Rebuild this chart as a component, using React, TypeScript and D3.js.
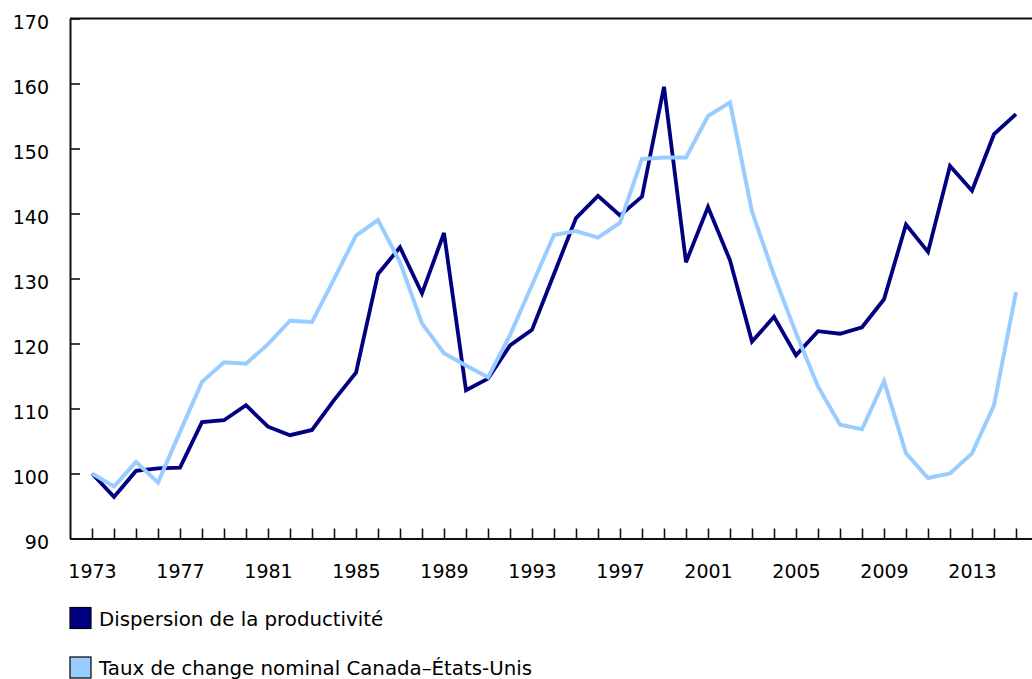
import * as d3 from "d3";
import { useRef, useEffect } from "react";

const years = d3.range(1973, 2016);

// Dispersion de la productivité
const productivity = [
  100.0, 96.4, 100.4, 100.8, 100.9, 107.9, 108.2, 110.5, 107.2, 105.9,
  106.7, 111.3, 115.5, 130.7, 134.8, 127.7, 137.0, 112.8, 114.6, 119.7,
  122.1, 130.7, 139.3, 142.7, 139.7, 142.6, 159.5, 132.5, 141.0, 132.8,
  120.3, 124.1, 118.2, 121.9, 121.5, 122.5, 126.8, 138.3, 134.1, 147.3,
  143.5, 152.2, 155.3,
];

// Taux de change nominal Canada–États-Unis
const exchangeRate = [
  100.0, 98.0, 101.8, 98.6, 106.4, 114.1, 117.1, 116.9, 119.9, 123.5,
  123.3, 129.9, 136.6, 139.0, 132.5, 123.1, 118.5, 116.6, 114.8, 121.3,
  129.0, 136.7, 137.3, 136.3, 138.6, 148.4, 148.6, 148.6, 155.0, 157.1,
  140.3, 130.5, 121.6, 113.4, 107.5, 106.8, 114.2, 103.1, 99.3, 100.0,
  103.1, 110.5, 127.9,
];

const yTicks = [90, 100, 110, 120, 130, 140, 150, 160, 170];

const seriesList = [
  { name: "Dispersion de la productivité", values: productivity, color: "#000080", width: 3.8 },
  { name: "Taux de change nominal Canada–États-Unis", values: exchangeRate, color: "#99ccff", width: 4 },
];

const width = 1032;
const height = 679;
const marginLeft = 70;
const marginTop = 18.5;
const plotBottom = 538.5;
const font = "'DejaVu Sans', Verdana, sans-serif";

export default function App() {
  const gx = useRef<SVGGElement>(null);
  const gy = useRef<SVGGElement>(null);

  const x = d3
    .scaleLinear()
    .domain([1972, 1972 + (width - marginLeft) / 22])
    .range([marginLeft, width]);

  const y = d3.scaleLinear().domain([90, 170]).range([plotBottom, marginTop]);

  const line = d3
    .line<number>()
    .x((_, i) => x(years[i]))
    .y((d) => y(d));

  useEffect(() => {
    if (gx.current) {
      const g = d3.select(gx.current);
      g.call(
        d3
          .axisBottom(x)
          .tickValues(years)
          .tickFormat((d) => ((+d - 1973) % 4 === 0 ? String(d) : ""))
          .tickSizeInner(-10)
          .tickSizeOuter(0)
          .tickPadding(26)
      );
      g.selectAll("text").attr("font-size", 19).attr("font-family", font).attr("fill", "#000");
      g.selectAll("line").attr("stroke", "#111").attr("stroke-width", 1.6);
      g.select(".domain").attr("stroke", "#111").attr("stroke-width", 2);
    }
  }, [x]);

  useEffect(() => {
    if (gy.current) {
      const g = d3.select(gy.current);
      g.call(
        d3
          .axisLeft(y)
          .tickValues(yTicks)
          .tickSizeInner(-10)
          .tickSizeOuter(0)
          .tickPadding(21)
      );
      g.selectAll("text")
        .attr("font-size", 19)
        .attr("font-family", font)
        .attr("fill", "#000")
        .attr("dy", "0.5em");
      g.selectAll("line").attr("stroke", "#111").attr("stroke-width", 1.6);
      g.select(".domain").attr("stroke", "#111").attr("stroke-width", 2);
    }
  }, [y]);

  return (
    <svg
      width={width}
      height={height}
      style={{ position: "absolute", left: 0, top: 0, background: "#fff" }}
    >
      <line
        x1={marginLeft}
        x2={width}
        y1={y(170)}
        y2={y(170)}
        stroke="#111"
        strokeWidth={2}
      />
      {seriesList.map((s) => (
        <path
          key={s.name}
          d={line(s.values) ?? ""}
          fill="none"
          stroke={s.color}
          strokeWidth={s.width}
          strokeLinejoin="miter"
        />
      ))}
      <g ref={gx} transform={`translate(0,${plotBottom})`} />
      <g ref={gy} transform={`translate(${marginLeft},0)`} />
      {seriesList.map((s, i) => (
        <g key={s.name} transform={`translate(69.5,${607 + i * 49.5})`}>
          <rect x={0.5} y={0.5} width={21} height={21} fill={s.color} stroke="#000" strokeWidth={1.2} />
          <text x={29.5} y={18.5} fontSize={19.8} fontFamily={font} fill="#000">
            {s.name}
          </text>
        </g>
      ))}
    </svg>
  );
}
